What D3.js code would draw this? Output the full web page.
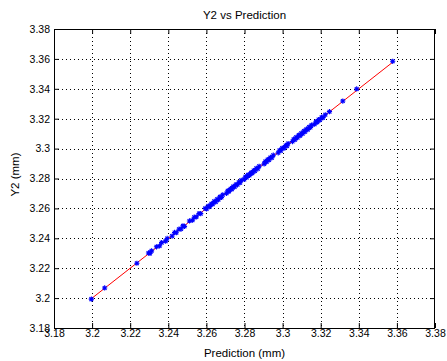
<!DOCTYPE html>
<html><head><meta charset="utf-8">
<script src="https://cdn.jsdelivr.net/npm/d3@7"></script>
<style>body{margin:0;background:#fff}svg{display:block}text{font-family:"Liberation Sans",Arial,sans-serif;fill:#000}</style>
</head><body><svg id="c" width="447" height="361"></svg>
<script>
const title = "Y2 vs Prediction";
const xLabel = "Prediction (mm)";
const yLabel = "Y2 (mm)";
const xTicks = [3.18,3.2,3.22,3.24,3.26,3.28,3.3,3.32,3.34,3.36,3.38];
const yTicks = [3.18,3.2,3.22,3.24,3.26,3.28,3.3,3.32,3.34,3.36,3.38];
const prediction = [3.1996,3.2066,3.2235,3.2296,3.2304,3.2312,3.2338,3.2354,3.2365,3.2386,3.2394,3.2420,3.2433,3.2442,3.2456,3.2467,3.2477,3.2485,3.2511,3.2527,3.2536,3.2547,3.2561,3.2570,3.2594,3.2601,3.2610,3.2617,3.2626,3.2633,3.2641,3.2649,3.2656,3.2663,3.2671,3.2679,3.2686,3.2706,3.2712,3.2719,3.2727,3.2734,3.2741,3.2748,3.2755,3.2763,3.2770,3.2777,3.2783,3.2799,3.2805,3.2812,3.2819,3.2826,3.2834,3.2841,3.2848,3.2855,3.2862,3.2870,3.2877,3.2903,3.2909,3.2916,3.2922,3.2929,3.2936,3.2944,3.2951,3.2977,3.2984,3.2991,3.2998,3.3008,3.3016,3.3023,3.3029,3.3052,3.3058,3.3065,3.3071,3.3078,3.3085,3.3092,3.3098,3.3105,3.3112,3.3118,3.3125,3.3132,3.3139,3.3146,3.3152,3.3168,3.3175,3.3182,3.3189,3.3196,3.3205,3.3212,3.3224,3.3246,3.3316,3.3389,3.3578];
const y2 = [3.1993,3.2068,3.2233,3.2302,3.2299,3.2316,3.2343,3.2349,3.2371,3.2381,3.2399,3.2415,3.2439,3.2437,3.2461,3.2462,3.2483,3.2480,3.2516,3.2521,3.2541,3.2543,3.2566,3.2565,3.2600,3.2596,3.2616,3.2612,3.2631,3.2628,3.2647,3.2643,3.2661,3.2658,3.2677,3.2673,3.2691,3.2701,3.2718,3.2714,3.2732,3.2729,3.2747,3.2743,3.2760,3.2758,3.2775,3.2772,3.2788,3.2794,3.2811,3.2807,3.2824,3.2821,3.2839,3.2836,3.2853,3.2850,3.2868,3.2865,3.2882,3.2898,3.2914,3.2911,3.2927,3.2924,3.2941,3.2939,3.2956,3.2972,3.2989,3.2986,3.3003,3.3003,3.3021,3.3018,3.3034,3.3047,3.3063,3.3060,3.3076,3.3073,3.3090,3.3087,3.3103,3.3100,3.3117,3.3113,3.3130,3.3127,3.3144,3.3141,3.3157,3.3163,3.3180,3.3177,3.3194,3.3191,3.3210,3.3207,3.3226,3.3247,3.3318,3.3399,3.3584];
const fitX = [3.1996, 3.3578];
const fitY = [3.1996, 3.3578];

const L = 54, R = 435, T = 29, B = 328;
const svg = d3.select("#c");
const x = d3.scaleLinear().domain([3.18, 3.38]).range([L, R]);
const y = d3.scaleLinear().domain([3.18, 3.38]).range([B, T]);
const fmt = d => String(+d.toFixed(2));

// grid
const g = svg.append("g");
g.selectAll("line.gx").data(xTicks.slice(1, -1)).join("line")
  .attr("x1", d => Math.round(x(d)) + 0.5).attr("x2", d => Math.round(x(d)) + 0.5)
  .attr("y1", T).attr("y2", B)
  .attr("stroke", "#000").attr("stroke-width", 1).attr("stroke-dasharray", "1,3");
g.selectAll("line.gy").data(yTicks.slice(1, -1)).join("line")
  .attr("y1", d => Math.round(y(d)) + 0.5).attr("y2", d => Math.round(y(d)) + 0.5)
  .attr("x1", L).attr("x2", R)
  .attr("stroke", "#000").attr("stroke-width", 1).attr("stroke-dasharray", "1,3");

// fit line
svg.append("line")
  .attr("x1", x(fitX[0])).attr("y1", y(fitY[0]))
  .attr("x2", x(fitX[1])).attr("y2", y(fitY[1]))
  .attr("stroke", "#ff0000").attr("stroke-width", 1);

// points (asterisk markers)
const s = 2.6, q = 1.9;
const star = `M${-s},0H${s}M0,${-s}V${s}M${-q},${-q}L${q},${q}M${-q},${q}L${q},${-q}`;
svg.append("g").selectAll("path").data(prediction.map((p, i) => [p, y2[i]])).join("path")
  .attr("transform", d => `translate(${x(d[0])},${y(d[1])})`)
  .attr("d", star).attr("fill", "none").attr("stroke", "#0000ff").attr("stroke-width", 1.1);

// axes with inner ticks on all sides
const tl = 5;
svg.append("g").attr("transform", `translate(0,${B})`)
  .call(d3.axisBottom(x).tickValues(xTicks).tickFormat(fmt).tickSizeInner(-tl).tickSizeOuter(0).tickPadding(2))
  .call(a => a.select(".domain").remove());
svg.append("g").attr("transform", `translate(0,${T})`)
  .call(d3.axisTop(x).tickValues(xTicks).tickFormat("").tickSizeInner(-tl).tickSizeOuter(0))
  .call(a => a.select(".domain").remove());
svg.append("g").attr("transform", `translate(${L},0)`)
  .call(d3.axisLeft(y).tickValues(yTicks).tickFormat(fmt).tickSizeInner(-tl).tickSizeOuter(0).tickPadding(4))
  .call(a => a.select(".domain").remove());
svg.append("g").attr("transform", `translate(${R},0)`)
  .call(d3.axisRight(y).tickValues(yTicks).tickFormat("").tickSizeInner(-tl).tickSizeOuter(0))
  .call(a => a.select(".domain").remove());
svg.selectAll(".tick text").attr("font-size", "10.5px").attr("font-family", "Liberation Sans, Arial, sans-serif").attr("fill", "#000");
svg.selectAll(".tick line").attr("stroke", "#000");

// box
svg.append("rect").attr("x", L + 0.5).attr("y", T + 0.5).attr("width", R - L - 1).attr("height", B - T)
  .attr("fill", "none").attr("stroke", "#000").attr("stroke-width", 1);

// labels
svg.append("text").attr("x", (L + R) / 2).attr("y", 19).attr("text-anchor", "middle").attr("font-size", "11.5px").text(title);
svg.append("text").attr("x", (L + R) / 2).attr("y", 357).attr("text-anchor", "middle").attr("font-size", "11.5px").text(xLabel);
svg.append("text").attr("transform", `translate(19,${(T + B) / 2 - 4}) rotate(-90)`).attr("text-anchor", "middle").attr("font-size", "11.5px").text(yLabel);
</script></body></html>
